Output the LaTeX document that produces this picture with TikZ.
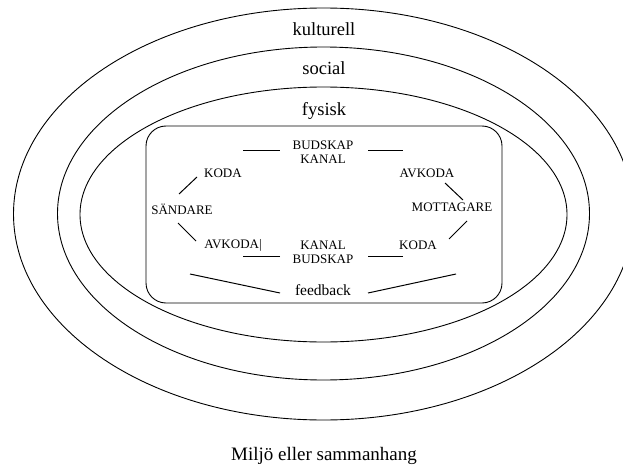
\documentclass[tikz,border=0pt]{standalone}
\usepackage{fontspec}
\setmainfont{Liberation Serif}
\usepackage{tikz}

\begin{document}
\begin{tikzpicture}[x=1pt,y=-1pt,
    ring/.style={line width=0.9pt},
    ringlabel/.style={anchor=base,font=\fontsize{18.5}{20}\selectfont},
    part/.style={inner sep=0pt,align=center,font=\fontsize{13}{14}\selectfont},
    link/.style={line width=1pt}]
        \useasboundingbox (0,0) rectangle (623,468);
        \clip (0,0) rectangle (623,468);

        \draw[ring] (323.5,214) ellipse (310 and 206);
        \draw[ring] (323.5,213.5) ellipse (266 and 166.5);
        \draw[ring] (323.5,214.5) ellipse (243.5 and 127.5);
        \draw[ring,rounded corners=20pt] (146,126) rectangle (502,303);

        \node[ringlabel] (kult) at (324,35.5) {kulturell};
        \node[ringlabel] (soc) at (324,74.5) {social};
        \node[ringlabel] (fys) at (324,115) {fysisk};

        \node[part] (budtop) at (323,152) {BUDSKAP\\KANAL};
        \node[part] (kodaL) at (223,173) {KODA};
        \node[part] (avkodaR) at (427,173) {AVKODA};
        \node[part] (sand) at (182,209) {SÄNDARE};
        \node[part] (mott) at (452,207) {MOTTAGARE};
        \node[part] (avkodaL) at (233,245) {AVKODA|};
        \node[part] (budbot) at (323,252) {KANAL\\BUDSKAP};
        \node[part] (kodaR) at (418,245) {KODA};
        \node[inner sep=0pt,font=\fontsize{15.5}{16}\selectfont] (feed) at (323,290) {feedback};

        \draw[link] ([shift={(-3,-15)}]sand.center) -- ([shift={(-26,4)}]kodaL.center);
        \draw[link] ([shift={(20,-23)}]kodaL.center) -- ([shift={(-43,-2)}]budtop.center);
        \draw[link] ([shift={(45,-2)}]budtop.center) -- ([shift={(-24,-23)}]avkodaR.center);
        \draw[link] ([shift={(18,10)}]avkodaR.center) -- ([shift={(11,-7)}]mott.center);
        \draw[link] ([shift={(15,14)}]mott.center) -- ([shift={(31,-6)}]kodaR.center);
        \draw[link] ([shift={(-15,11)}]kodaR.center) -- ([shift={(45,4)}]budbot.center);
        \draw[link] ([shift={(-43,4)}]budbot.center) -- ([shift={(10,11)}]avkodaL.center);
        \draw[link] ([shift={(-37,-4)}]avkodaL.center) -- ([shift={(-4,14)}]sand.center);

        \draw[link] ([shift={(4,67)}]mott.center) -- ([shift={(45,3)}]feed.center);
        \draw[link] ([shift={(-43,3)}]feed.center) -- ([shift={(8,65)}]sand.center);

        \node[anchor=base,font=\fontsize{19}{20}\selectfont] (milj) at (324,460) {Miljö eller sammanhang};
\end{tikzpicture}
\end{document}
